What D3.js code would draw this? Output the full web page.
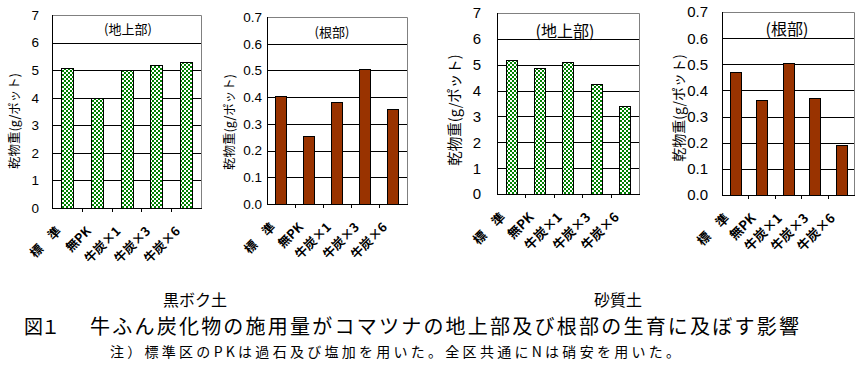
<!DOCTYPE html>
<html><head><meta charset="utf-8">
<script src="https://cdn.jsdelivr.net/npm/d3@7"></script>
<style>
body{margin:0;background:#fff;}
svg{display:block;}
</style></head>
<body>
<svg id="c" width="864" height="366"></svg>
<script>
const categories = ["標\u3000準", "無PK", "牛炭×1", "牛炭×3", "牛炭×6"];
const kuroShoot = [5.07, 3.98, 5.0, 5.18, 5.29];
const kuroRoot = [0.406, 0.254, 0.381, 0.507, 0.355];
const sandShoot = [5.19, 4.88, 5.12, 4.26, 3.41];
const sandRoot = [0.471, 0.364, 0.506, 0.372, 0.192];
const shootTicks = [0, 1, 2, 3, 4, 5, 6, 7];
const rootTicks = [0, 0.1, 0.2, 0.3, 0.4, 0.5, 0.6, 0.7];
const yTitle = "乾物重(g/ポット)";
const shootTitle = "(地上部)";
const rootTitle = "(根部)";
const soilLabels = ["黒ボク土", "砂質土"];
const figTitleNo = "図１";
const figTitle = "牛ふん炭化物の施用量がコマツナの地上部及び根部の生育に及ぼす影響";
const note = "注）標準区のPKは過石及び塩加を用いた。全区共通にNは硝安を用いた。";

const svg = d3.select("#c");
const defs = svg.append("defs");
const pat = defs.append("pattern").attr("id","chk").attr("patternUnits","userSpaceOnUse")
  .attr("width",4).attr("height",4);
pat.append("rect").attr("width",4).attr("height",4).attr("fill","#fff");
pat.append("rect").attr("width",2).attr("height",2).attr("fill","#008000");
pat.append("rect").attr("x",2).attr("y",2).attr("width",2).attr("height",2).attr("fill","#008000");

const sans = "Arial, 'Liberation Sans', sans-serif";
const jp = "'Noto Sans CJK JP', sans-serif";

const panels = [
  {data:kuroShoot, ticks:shootTicks, max:7, fmt:d3.format("d"), x0:52, x1:201, y0:208, y1:15, fill:"url(#chk)", title:shootTitle, titleX:128, titleY:29, titleSize:13, tickX:39, tickSize:13.5, yTitleX:14, yTitleY:121, yTitleSize:12.5, xlSize:12.5},
  {data:kuroRoot, ticks:rootTicks, max:0.7, fmt:d3.format(".1f"), x0:267, x1:407, y0:204, y1:17, fill:"#993300", title:rootTitle, titleX:332, titleY:32, titleSize:13, tickX:262, tickSize:13.5, yTitleX:229, yTitleY:122, yTitleSize:12.5, xlSize:12.5},
  {data:sandShoot, ticks:shootTicks, max:7, fmt:d3.format("d"), x0:497, x1:639, y0:194, y1:13, fill:"url(#chk)", title:shootTitle, titleX:565, titleY:31, titleSize:16, tickX:481, tickSize:15, yTitleX:455, yTitleY:110, yTitleSize:14.5, xlSize:13},
  {data:sandRoot, ticks:rootTicks, max:0.7, fmt:d3.format(".1f"), x0:722, x1:854, y0:195, y1:12, fill:"#993300", title:rootTitle, titleX:787, titleY:29, titleSize:16, tickX:708, tickSize:15, yTitleX:679, yTitleY:108, yTitleSize:14, xlSize:13}
];

panels.forEach(p => {
  const g = svg.append("g");
  const x = d3.scaleBand().domain(categories).range([p.x0, p.x1]).paddingInner(0.6).paddingOuter(0.3);
  const xb = d3.scaleBand().domain(categories).range([p.x0, p.x1]);
  const y = d3.scaleLinear().domain([0, p.max]).range([p.y0, p.y1]);
  g.append("path").attr("d",`M${p.x0},${p.y1+0.5}H${p.x1+0.5}V${p.y0}`).attr("fill","none").attr("stroke","#808080");
  g.selectAll(".grid").data(p.ticks.slice(1, -1)).join("line")
    .attr("x1",p.x0).attr("x2",p.x1).attr("y1",d=>Math.round(y(d))+0.5).attr("y2",d=>Math.round(y(d))+0.5)
    .attr("stroke","#000");
  g.selectAll(".bar").data(p.data).join("rect")
    .attr("x",(d,i)=>Math.round(x(categories[i]))+0.5)
    .attr("y",d=>Math.round(y(d))+0.5)
    .attr("width",Math.round(x.bandwidth()))
    .attr("height",d=>Math.round(p.y0 - y(d)))
    .attr("fill",p.fill).attr("stroke","#000").attr("stroke-width",1);
  g.append("line").attr("x1",p.x0+0.5).attr("x2",p.x0+0.5).attr("y1",p.y1).attr("y2",p.y0+0.5).attr("stroke","#000");
  g.append("line").attr("x1",p.x0).attr("x2",p.x1+1).attr("y1",p.y0+0.5).attr("y2",p.y0+0.5).attr("stroke","#000");
  g.selectAll(".xt").data(categories.slice(1)).join("line")
    .attr("x1",d=>Math.round(xb(d))+0.5).attr("x2",d=>Math.round(xb(d))+0.5)
    .attr("y1",p.y0).attr("y2",p.y0+4).attr("stroke","#000");
  g.selectAll(".yl").data(p.ticks).join("text")
    .attr("x",p.tickX).attr("y",d=>y(d)).attr("dy","0.36em")
    .attr("text-anchor","end").attr("font-family",sans).attr("font-size",p.tickSize).attr("fill","#000")
    .text(d=>p.fmt(d));
  g.selectAll(".xl").data(categories).join("text")
    .attr("transform",d=>`translate(${xb(d)+xb.bandwidth()/2-5},${p.y0+24}) rotate(-45)`)
    .attr("text-anchor","end").attr("font-family",jp).attr("font-weight","bold").attr("font-size",p.xlSize).attr("fill","#000")
    .text(d=>d);
  g.append("text").attr("x",p.titleX).attr("y",p.titleY).attr("dy","0.36em").attr("text-anchor","middle")
    .attr("font-family",jp).attr("font-size",p.titleSize).attr("fill","#000").text(p.title);
  g.append("text").attr("transform",`translate(${p.yTitleX},${p.yTitleY}) rotate(-90)`)
    .attr("text-anchor","middle").attr("dy","0.36em")
    .attr("font-family",jp).attr("font-size",p.yTitleSize).attr("fill","#000").text(yTitle);
});

svg.append("text").attr("x",195).attr("y",300).attr("dy","0.36em").attr("text-anchor","middle")
  .attr("font-family",jp).attr("font-size",16).attr("fill","#000").text(soilLabels[0]);
svg.append("text").attr("x",618).attr("y",300).attr("dy","0.36em").attr("text-anchor","middle")
  .attr("font-family",jp).attr("font-size",16).attr("fill","#000").text(soilLabels[1]);
svg.append("text").attr("x",24).attr("y",327).attr("dy","0.36em")
  .attr("font-family",jp).attr("font-size",19).attr("textLength",36).attr("lengthAdjust","spacing").attr("fill","#000").text(figTitleNo);
svg.append("text").attr("x",90).attr("y",327).attr("dy","0.36em")
  .attr("font-family",jp).attr("font-size",20).attr("textLength",709).attr("lengthAdjust","spacing").attr("fill","#000").text(figTitle);
svg.append("text").attr("x",110).attr("y",352).attr("dy","0.36em")
  .attr("font-family",jp).attr("font-size",14).attr("textLength",570).attr("lengthAdjust","spacing").attr("fill","#000").text(note);
</script>
</body></html>
